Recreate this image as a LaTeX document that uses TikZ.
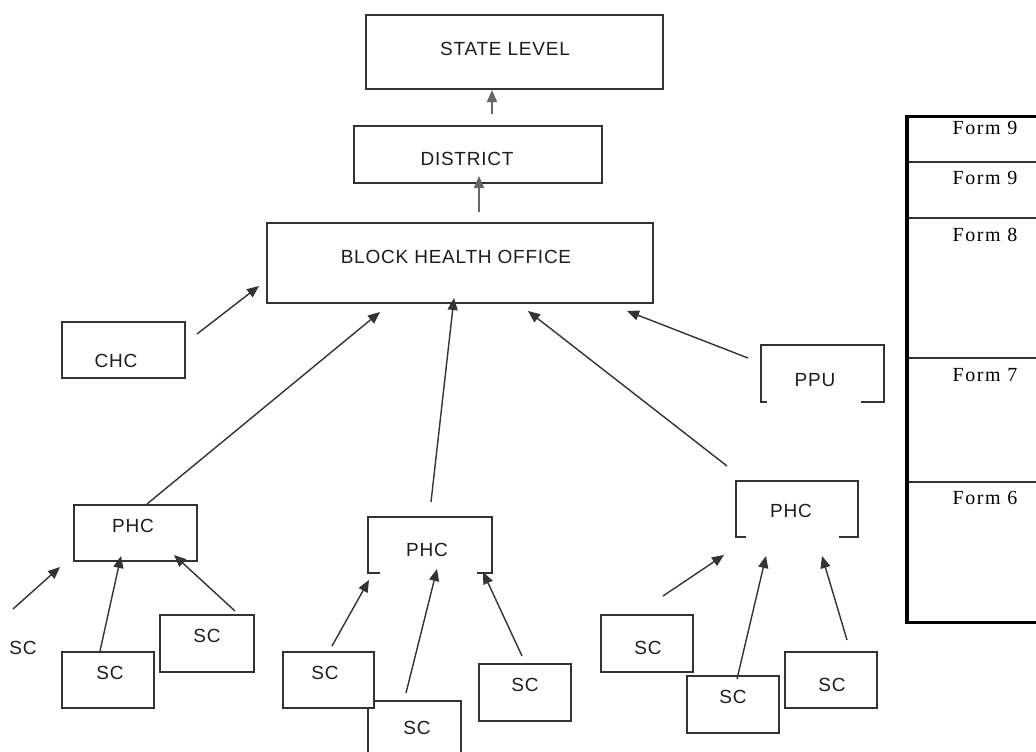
\documentclass[tikz,border=0pt]{standalone}
\usepackage{fontspec}
\setmainfont{Liberation Serif}
\newfontfamily\boxfont{Liberation Sans}[LetterSpace=4.0]
\newfontfamily\formfont{Liberation Serif}[LetterSpace=8.0]
\usetikzlibrary{arrows.meta}
\definecolor{ink}{HTML}{333333}
\definecolor{txt}{HTML}{1e1e1e}
\begin{document}
\begin{tikzpicture}[x=1pt,y=-1pt,
  box/.style={draw=ink, line width=1.4pt, fill=white, inner sep=0pt, outer sep=0pt, anchor=north west},
  openbox/.style={inner sep=0pt, outer sep=0pt, anchor=north west},
  frame/.style={draw=ink, line width=1.4pt},
  lbl/.style={anchor=base, yshift=-6.8pt, inner sep=0pt, text=txt, font=\boxfont\fontsize{19}{19}\selectfont},
  formlbl/.style={anchor=base, yshift=-6.6pt, inner sep=0pt, text=black, font=\formfont\fontsize{20}{20}\selectfont},
  link/.style={draw=ink, line width=1.4pt, -{Triangle[length=12pt,width=10pt]}},
  uplink/.style={link, draw=ink!75}]
\useasboundingbox[fill=white] (0,0) rectangle (1036,752);

% ---------- upper levels ----------
\node[box, minimum width=297pt, minimum height=74pt] (state) at (366,15) {};
\node[lbl] (stateT) at (505,49) {STATE LEVEL};
\node[box, minimum width=248pt, minimum height=57pt] (district) at (354,126) {};
\node[lbl] (districtT) at (467,159) {DISTRICT};
\node[box, minimum width=386pt, minimum height=80pt] (bho) at (267,223) {};
\node[lbl] (bhoT) at (456,257) {BLOCK HEALTH OFFICE};

% ---------- CHC and PPU ----------
\node[box, minimum width=123pt, minimum height=56pt] (chc) at (62,322) {};
\node[lbl] (chcT) at (116,361) {CHC};
\node[openbox, minimum width=123pt, minimum height=57pt] (ppu) at (761,345) {};
\draw[frame] ([xshift=6pt]ppu.south west) -- (ppu.south west) -- (ppu.north west)
  -- (ppu.north east) -- (ppu.south east) -- ++(-23,0);
\node[lbl] (ppuT) at (815,380) {PPU};

% ---------- PHCs ----------
\node[box, minimum width=123pt, minimum height=56pt] (phcL) at (74,505) {};
\node[lbl] (phcLT) at (133,526) {PHC};
\node[openbox, minimum width=124pt, minimum height=56pt] (phcM) at (368,517) {};
\draw[frame] ([xshift=12pt]phcM.south west) -- (phcM.south west) -- (phcM.north west)
  -- (phcM.north east) -- (phcM.south east) -- ++(-15,0);
\node[lbl] (phcMT) at (427,550) {PHC};
\node[openbox, minimum width=122pt, minimum height=56pt] (phcR) at (736,481) {};
\draw[frame] ([xshift=10pt]phcR.south west) -- (phcR.south west) -- (phcR.north west)
  -- (phcR.north east) -- (phcR.south east) -- ++(-19,0);
\node[lbl] (phcRT) at (791,511) {PHC};

% ---------- sub centres ----------
\node[lbl] (scFree) at (23,648) {SC};
\node[box, minimum width=92pt, minimum height=56pt] (scL1) at (62,652) {};
\node[lbl] (scL1T) at (110,673) {SC};
\node[box, minimum width=94pt, minimum height=57pt] (scL2) at (160,615) {};
\node[lbl] (scL2T) at (207,636) {SC};
\node[box, minimum width=93pt, minimum height=70pt] (scM2) at (368,701) {};
\node[lbl] (scM2T) at (417,728) {SC};
\node[box, minimum width=91pt, minimum height=56pt] (scM1) at (283,652) {};
\node[lbl] (scM1T) at (325,673) {SC};
\node[box, minimum width=92pt, minimum height=57pt] (scM3) at (479,664) {};
\node[lbl] (scM3T) at (525,685) {SC};
\node[box, minimum width=92pt, minimum height=57pt] (scR1) at (601,615) {};
\node[lbl] (scR1T) at (648,648) {SC};
\node[box, minimum width=92pt, minimum height=57pt] (scR2) at (687,676) {};
\node[lbl] (scR2T) at (733,697) {SC};
\node[box, minimum width=92pt, minimum height=56pt] (scR3) at (785,652) {};
\node[lbl] (scR3T) at (832,685) {SC};

% ---------- arrow end points ----------
\coordinate (dOut) at (492,114);   \coordinate (sIn) at (492,90);
\coordinate (bOut) at (479,212);   \coordinate (dIn) at (479,176);
\coordinate (chcOut) at (197,334); \coordinate (bIn1) at (259,286);
\coordinate (ppuOut) at (748,358); \coordinate (bIn5) at (627,311);
\coordinate (phcLOut) at (147,504); \coordinate (bIn2) at (380,312);
\coordinate (phcMOut) at (431,502); \coordinate (bIn3) at (454,298);
\coordinate (phcROut) at (727,466); \coordinate (bIn4) at (528,311);
\coordinate (scFreeOut) at (13,609); \coordinate (pL0) at (60,567);
\coordinate (scL1Out) at (100,651); \coordinate (pL1) at (121,556);
\coordinate (scL2Out) at (235,611); \coordinate (pL2) at (174,555);
\coordinate (scM1Out) at (332,646); \coordinate (pM1) at (369,580);
\coordinate (scM2Out) at (406,693); \coordinate (pM2) at (437,569);
\coordinate (scM3Out) at (522,656); \coordinate (pM3) at (483,572);
\coordinate (scR1Out) at (663,596); \coordinate (pR1) at (724,555);
\coordinate (scR2Out) at (737,679); \coordinate (pR2) at (766,556);
\coordinate (scR3Out) at (847,640); \coordinate (pR3) at (822,556);

% ---------- reporting arrows ----------
\draw[uplink] (dOut) -- (sIn);
\draw[uplink] (bOut) -- (dIn);
\draw[link] (chcOut) -- (bIn1);
\draw[link] (ppuOut) -- (bIn5);
\draw[link] (phcLOut) -- (bIn2);
\draw[link] (phcMOut) -- (bIn3);
\draw[link] (phcROut) -- (bIn4);
\draw[link] (scFreeOut) -- (pL0);
\draw[link] (scL1Out) -- (pL1);
\draw[link] (scL2Out) -- (pL2);
\draw[link] (scM1Out) -- (pM1);
\draw[link] (scM2Out) -- (pM2);
\draw[link] (scM3Out) -- (pM3);
\draw[link] (scR1Out) -- (pR1);
\draw[link] (scR2Out) -- (pR2);
\draw[link] (scR3Out) -- (pR3);

% ---------- forms column ----------
\draw[ink, line width=1.1pt] (907,162) -- (1036,162)
  (907,218) -- (1036,218) (907,358) -- (1036,358) (907,482) -- (1036,482);
\draw[black, line width=3pt] (1036,116) -- (907,116) -- (907,622) -- (1036,622);
\draw[black, line width=4pt] (907,114.5) -- (907,623.5);
\node[formlbl] (f1) at (985,128) {Form 9};
\node[formlbl] (f2) at (985,178) {Form 9};
\node[formlbl] (f3) at (985,235) {Form 8};
\node[formlbl] (f4) at (985,375) {Form 7};
\node[formlbl] (f5) at (985,498) {Form 6};
\end{tikzpicture}
\end{document}
